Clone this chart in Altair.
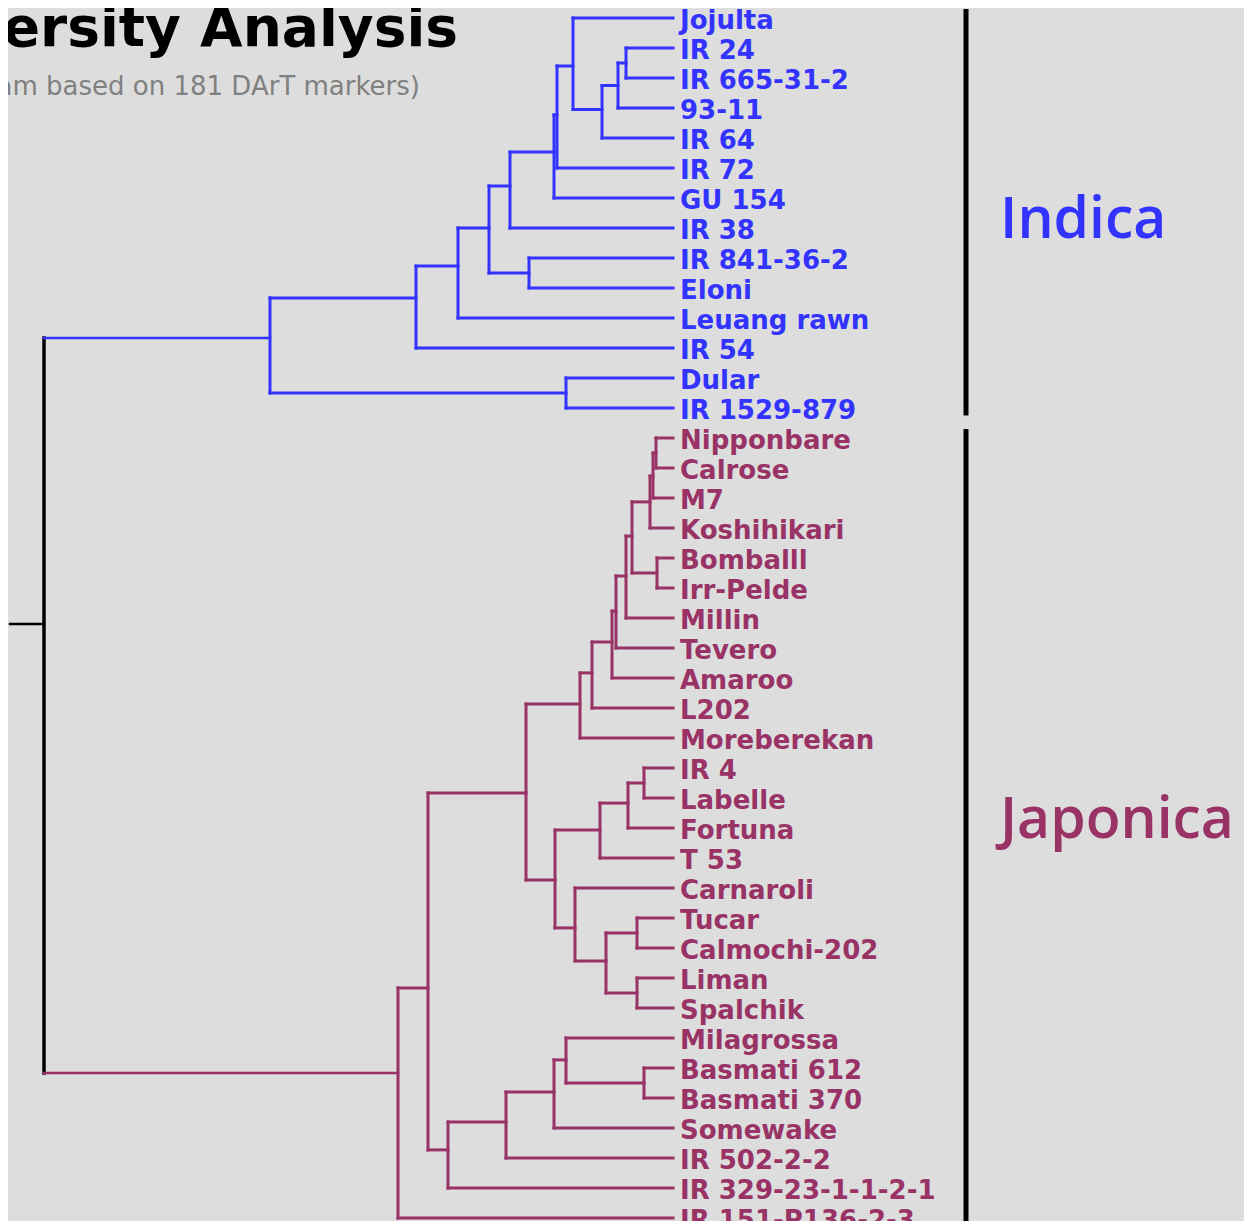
import altair as alt
import pandas as pd

# ---------------- data ----------------
LEAVES = ["Jojulta", "IR 24", "IR 665-31-2", "93-11", "IR 64", "IR 72", "GU 154",
          "IR 38", "IR 841-36-2", "Eloni", "Leuang rawn", "IR 54", "Dular", "IR 1529-879",
          "Nipponbare", "Calrose", "M7", "Koshihikari", "Bomballl", "Irr-Pelde", "Millin",
          "Tevero", "Amaroo", "L202", "Moreberekan", "IR 4", "Labelle", "Fortuna", "T 53",
          "Carnaroli", "Tucar", "Calmochi-202", "Liman", "Spalchik", "Milagrossa",
          "Basmati 612", "Basmati 370", "Somewake", "IR 502-2-2", "IR 329-23-1-1-2-1",
          "IR 151-P136-2-3"]
LEAF_GROUP = ["Indica"] * 14 + ["Japonica"] * 27

# internal nodes: id, merge distance, row position, two children
NODE_ID = ["i1", "i2", "i3", "i4", "i5", "i6", "i7", "i8", "i9", "i10", "i11", "i12", "i13",
           "j1", "j2", "j3", "j4", "j5", "j6", "j7", "j8", "j9", "j10",
           "k1", "k2", "k3", "l1", "l2", "l3", "l4", "k4", "j11",
           "m1", "m2", "m3", "m4", "m5", "n1", "n2", "root"]
NODE_DIST = [0.047, 0.055, 0.071, 0.100, 0.116, 0.119, 0.163, 0.144, 0.184, 0.215, 0.257, 0.107, 0.403,
             0.017, 0.020, 0.023, 0.016, 0.041, 0.047, 0.057, 0.061, 0.081, 0.093,
             0.029, 0.045, 0.073, 0.036, 0.036, 0.067, 0.098, 0.118, 0.147,
             0.029, 0.107, 0.119, 0.167, 0.225, 0.245, 0.275, 0.629]
NODE_ROW = [1.5, 2.25, 3.05, 1.6, 3.23, 4.47, 5.6, 8.5, 7.0, 8.27, 9.33, 12.5, 10.67,
            14.5, 15.27, 16.13, 18.5, 17.27, 18.6, 19.77, 20.8, 21.83, 22.87,
            25.5, 26.17, 27.07, 30.5, 32.5, 31.43, 30.33, 28.73, 25.83,
            35.5, 34.73, 35.8, 36.8, 37.73, 32.33, 35.17, 20.2]
NODE_LEFT = ["IR 24", "i1", "i2", "Jojulta", "i4", "i5", "i6", "IR 841-36-2", "i7", "i9", "i10", "Dular", "i11",
             "Nipponbare", "j1", "j2", "Bomballl", "j3", "j5", "j6", "j7", "j8", "j9",
             "IR 4", "k1", "k2", "Tucar", "Liman", "l1", "Carnaroli", "k3", "j10",
             "Basmati 612", "Milagrossa", "m2", "m3", "m4", "j11", "n1", "i13"]
NODE_RIGHT = ["IR 665-31-2", "93-11", "IR 64", "i3", "IR 72", "GU 154", "IR 38", "Eloni", "i8",
              "Leuang rawn", "IR 54", "IR 1529-879", "i12",
              "Calrose", "M7", "Koshihikari", "Irr-Pelde", "j4", "Millin", "Tevero", "Amaroo",
              "L202", "Moreberekan",
              "Labelle", "Fortuna", "T 53", "Calmochi-202", "Spalchik", "l2", "l3", "l4", "k4",
              "Basmati 370", "m1", "Somewake", "IR 502-2-2", "IR 329-23-1-1-2-1", "m5",
              "IR 151-P136-2-3", "n2"]
ROOT_STUB = 0.663

GROUPS = ["Indica", "Japonica"]
GROUP_LABEL_ROW = [6.75, 26.75]

TITLE = "Genetic Diversity Analysis"
SUBTITLE = "(Dendrogram based on 181 DArT markers)"

COLORS = {"Indica": "#3333ff", "Japonica": "#993366", "root": "#000000"}

# ---------------- build tree geometry ----------------
pos = {}
for i, (name, g) in enumerate(zip(LEAVES, LEAF_GROUP)):
    pos[name] = (0.0, float(i), g)

segs = []
for nid, d, r, a, b in zip(NODE_ID, NODE_DIST, NODE_ROW, NODE_LEFT, NODE_RIGHT):
    da, ra, ga = pos[a]
    db, rb, gb = pos[b]
    g = ga if ga == gb else "root"
    is_root = g == "root"
    segs.append(dict(x=d, x2=d, y=ra, y2=rb, g=g, w=3.5 if is_root else 3))
    segs.append(dict(x=d, x2=da, y=ra, y2=ra, g=ga, w=2.5 if is_root else 3))
    segs.append(dict(x=d, x2=db, y=rb, y2=rb, g=gb, w=2.5 if is_root else 3))
    pos[nid] = (d, r, g)

rd, rr, _ = pos["root"]
segs.append(dict(x=rd, x2=ROOT_STUB, y=rr, y2=rr, g="root", w=2.5))
seg_df = pd.DataFrame(segs)

leaf_df = pd.DataFrame({"name": LEAVES, "row": list(range(len(LEAVES))),
                        "g": LEAF_GROUP, "d": [0.0] * len(LEAVES)})

first = [LEAF_GROUP.index(g) for g in GROUPS]
last = [len(LEAF_GROUP) - 1 - LEAF_GROUP[::-1].index(g) for g in GROUPS]
grp_df = pd.DataFrame({"g": GROUPS,
                       "y0": [f - 0.3 for f in first],
                       "y1": [l + 0.25 for l in last],
                       "ly": GROUP_LABEL_ROW})

W, H = 1236, 1213
xs = alt.Scale(domain=[-0.571, 0.665], reverse=True, nice=False, zero=False)
ys = alt.Scale(domain=[-1 / 3, 40.1], reverse=True, nice=False, zero=False)
cs = alt.Scale(domain=list(COLORS.keys()), range=list(COLORS.values()))

tree = alt.Chart(seg_df).mark_rule(strokeCap="square").encode(
    x=alt.X("x:Q", scale=xs, axis=None),
    x2="x2:Q",
    y=alt.Y("y:Q", scale=ys, axis=None),
    y2="y2:Q",
    color=alt.Color("g:N", scale=cs, legend=None),
    strokeWidth=alt.StrokeWidth("w:Q", scale=None),
)

labels = alt.Chart(leaf_df).mark_text(
    align="left", baseline="middle", dx=7, dy=2.5,
    font="DejaVu Sans", fontWeight="bold", fontSize=26,
).encode(
    x=alt.X("d:Q", scale=xs, axis=None),
    y=alt.Y("row:Q", scale=ys, axis=None),
    text="name:N",
    color=alt.Color("g:N", scale=cs, legend=None),
)

brackets = alt.Chart(grp_df).mark_rule(color="#000000", strokeWidth=5).encode(
    x=alt.value(958),
    y=alt.Y("y0:Q", scale=ys, axis=None),
    y2="y1:Q",
)

glabels = alt.Chart(grp_df).mark_text(
    align="left", baseline="middle",
    font="Open Sans", fontWeight=600, fontSize=57,
).encode(
    x=alt.value(992),
    y=alt.Y("ly:Q", scale=ys, axis=None),
    text="g:N",
    color=alt.Color("g:N", scale=cs, legend=None),
)

title = alt.Chart(pd.DataFrame({"t": [TITLE]})).mark_text(
    align="right", baseline="alphabetic", font="DejaVu Sans", fontWeight="bold",
    fontSize=55, color="#000000",
).encode(x=alt.value(450), y=alt.value(38), text="t:N")

subtitle = alt.Chart(pd.DataFrame({"t": [SUBTITLE]})).mark_text(
    align="right", baseline="alphabetic", font="DejaVu Sans",
    fontSize=26, color="#808080",
).encode(x=alt.value(412), y=alt.value(87), text="t:N")

chart = alt.layer(tree, labels, brackets, glabels, title, subtitle).properties(
    width=W, height=H, padding=0, background="#dddddd",
    autosize=alt.AutoSizeParams(type="none"),
).configure_view(strokeWidth=0)

chart.save("out.html", embed_options={"renderer": "svg", "actions": False})
